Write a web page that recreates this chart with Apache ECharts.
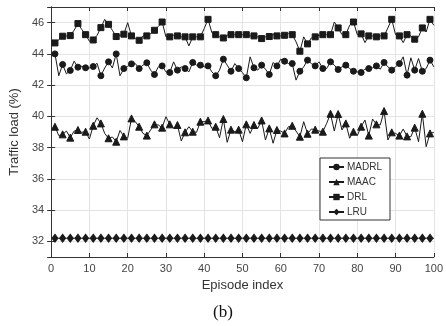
<!DOCTYPE html>
<html>
<head>
<meta charset="utf-8">
<script src="https://cdn.jsdelivr.net/npm/echarts@6/dist/echarts.min.js"></script>
<style>html,body{margin:0;padding:0;background:#fff}#c{width:446px;height:326px}</style>
</head>
<body>
<div id="c"></div>
<script>
const seriesNames = ['MADRL', 'MAAC', 'DRL', 'LRU'];
const xTicks = [0, 10, 20, 30, 40, 50, 60, 70, 80, 90, 100];
const yTicks = [32, 34, 36, 38, 40, 42, 44, 46];

const madrl = [
  44.00, 42.60, 43.32, 42.72, 42.94, 43.53, 43.15, 43.21, 43.11, 43.10,
  43.19, 43.40, 42.60, 43.10, 43.49, 43.10, 44.00, 42.60, 43.06, 43.20,
  43.36, 43.38, 43.06, 43.28, 43.43, 42.96, 42.68, 43.17, 43.23, 42.85,
  42.81, 43.49, 42.96, 43.17, 43.06, 42.85, 43.45, 43.28, 43.28, 43.17,
  43.23, 42.85, 42.60, 42.96, 43.66, 43.28, 42.89, 43.38, 43.06, 42.80,
  42.47, 43.81, 43.11, 42.96, 43.28, 43.02, 42.68, 43.45, 43.23, 43.66,
  43.53, 43.38, 43.38, 42.32, 42.89, 43.17, 43.60, 43.38, 43.23, 43.49,
  43.06, 43.06, 43.49, 43.28, 43.00, 43.17, 43.28, 43.06, 42.89, 42.85,
  42.81, 43.02, 43.06, 43.11, 43.23, 43.02, 43.45, 43.17, 42.96, 43.17,
  43.38, 43.81, 42.64, 43.75, 42.96, 43.70, 42.89, 43.06, 43.60, 43.17
];
const maac = [
  39.34, 38.77, 38.85, 39.06, 38.64, 39.06, 39.13, 38.98, 39.02, 38.55,
  39.40, 39.91, 39.55, 38.91, 38.60, 38.68, 38.38, 39.10, 38.72, 38.60,
  39.87, 39.66, 39.34, 38.91, 38.77, 39.13, 39.49, 39.45, 39.28, 39.98,
  39.49, 39.23, 39.45, 38.43, 38.98, 39.34, 39.02, 38.98, 39.66, 39.66,
  39.74, 39.23, 39.34, 38.64, 39.83, 38.34, 39.15, 39.02, 39.15, 38.38,
  39.49, 38.91, 39.45, 39.23, 39.74, 38.49, 39.23, 38.28, 39.13, 39.06,
  38.91, 39.34, 39.40, 39.06, 38.70, 39.66, 38.89, 39.19, 39.15, 39.06,
  39.02, 39.55, 40.17, 39.06, 40.15, 39.13, 39.55, 38.60, 39.02, 38.77,
  39.34, 39.77, 38.77, 39.83, 39.49, 39.45, 40.34, 38.49, 38.98, 38.91,
  38.77, 39.19, 38.72, 38.70, 39.28, 38.38, 40.17, 38.06, 38.91, 38.98
];
const drl = [
  44.70, 44.91, 45.13, 45.15, 45.17, 45.51, 45.94, 45.57, 45.23, 44.81,
  44.89, 45.19, 45.68, 46.21, 45.89, 45.51, 45.11, 45.19, 45.26, 46.00,
  45.15, 44.98, 44.87, 45.15, 45.15, 45.30, 45.51, 45.75, 46.04, 45.09,
  45.09, 45.19, 45.15, 45.09, 45.09, 44.51, 45.09, 45.09, 45.09, 45.62,
  46.21, 45.36, 45.23, 45.09, 45.02, 45.19, 45.23, 45.23, 45.23, 45.23,
  45.23, 45.15, 45.15, 45.09, 44.98, 45.09, 45.11, 45.23, 45.15, 45.15,
  45.19, 45.30, 45.23, 44.77, 44.17, 45.09, 44.64, 45.02, 45.09, 45.19,
  45.23, 45.23, 45.23, 46.04, 45.66, 45.23, 45.23, 45.83, 46.04, 45.23,
  45.28, 44.72, 45.15, 45.15, 45.09, 45.15, 45.15, 45.66, 46.21, 45.23,
  45.15, 44.72, 45.23, 45.15, 44.94, 45.09, 45.66, 45.40, 46.21, 45.83
];
const lru = [
  32.2, 32.2, 32.2, 32.2, 32.2, 32.2, 32.2, 32.2, 32.2, 32.2,
  32.2, 32.2, 32.2, 32.2, 32.2, 32.2, 32.2, 32.2, 32.2, 32.2,
  32.2, 32.2, 32.2, 32.2, 32.2, 32.2, 32.2, 32.2, 32.2, 32.2,
  32.2, 32.2, 32.2, 32.2, 32.2, 32.2, 32.2, 32.2, 32.2, 32.2,
  32.2, 32.2, 32.2, 32.2, 32.2, 32.2, 32.2, 32.2, 32.2, 32.2,
  32.2, 32.2, 32.2, 32.2, 32.2, 32.2, 32.2, 32.2, 32.2, 32.2,
  32.2, 32.2, 32.2, 32.2, 32.2, 32.2, 32.2, 32.2, 32.2, 32.2,
  32.2, 32.2, 32.2, 32.2, 32.2, 32.2, 32.2, 32.2, 32.2, 32.2,
  32.2, 32.2, 32.2, 32.2, 32.2, 32.2, 32.2, 32.2, 32.2, 32.2,
  32.2, 32.2, 32.2, 32.2, 32.2, 32.2, 32.2, 32.2, 32.2, 32.2
];

const symbols = ['circle', 'triangle', 'rect', 'diamond'];
const symbolSizes = [6, 7, 6, [6, 8]];
const values = [madrl, maac, drl, lru];
const lineColor = '#1a1a1a';

function build(vals) {
  return vals.map((v, i) => i % 2 === 0 ? { value: [i + 1, v] } : { value: [i + 1, v], symbol: 'none' });
}

const chart = echarts.init(document.getElementById('c'), null, { renderer: 'canvas' });
const font = 'Liberation Sans, Arial, Helvetica, sans-serif';
const axisLineColor = '#333';
const labelColor = '#444';
const gridColor = '#e4e4e4';

chart.setOption({
  animation: false,
  backgroundColor: '#fff',
  textStyle: { fontFamily: font },
  grid: { left: 35, right: 11, top: 7, bottom: 69, containLabel: false },
  legend: {
    orient: 'vertical',
    left: 320, top: 158,
    data: seriesNames,
    itemWidth: 15, itemHeight: 8, itemGap: 5,
    padding: [4, 8, 3, 8],
    borderColor: '#333', borderWidth: 1, borderRadius: 0,
    backgroundColor: '#fff',
    textStyle: { fontFamily: font, fontSize: 10, color: '#333', padding: [0, 0, 0, -2] }
  },
  xAxis: [{
    type: 'value', min: 0, max: 100, interval: 10,
    name: 'Episode index', nameLocation: 'middle', nameGap: 13,
    nameTextStyle: { fontFamily: font, fontSize: 13, color: '#333' },
    axisLine: { show: true, lineStyle: { color: axisLineColor, width: 1 } },
    axisTick: { show: true, inside: true, length: 4, lineStyle: { color: axisLineColor } },
    axisLabel: { color: labelColor, fontSize: 11, margin: 6, fontFamily: font,
      formatter: v => xTicks.indexOf(v) >= 0 ? String(v) : '' },
    splitLine: { show: true, lineStyle: { color: gridColor, width: 1 } }
  }, {
    type: 'value', min: 0, max: 100, interval: 10, position: 'top',
    axisLine: { show: true, lineStyle: { color: axisLineColor, width: 1 } },
    axisTick: { show: true, inside: true, length: 4, lineStyle: { color: axisLineColor } },
    axisLabel: { show: false }, splitLine: { show: false }
  }],
  yAxis: [{
    type: 'value', min: 31, max: 47, splitNumber: 8,
    name: 'Traffic load (%)', nameLocation: 'middle', nameGap: 19,
    nameTextStyle: { fontFamily: font, fontSize: 13, color: '#333' },
    axisLine: { show: true, lineStyle: { color: axisLineColor, width: 1 } },
    axisTick: { show: true, inside: true, length: 4, lineStyle: { color: axisLineColor } },
    axisLabel: { color: labelColor, fontSize: 11, margin: 7, fontFamily: font,
      formatter: v => yTicks.indexOf(v) >= 0 ? String(v) : '' },
    splitLine: { show: true, lineStyle: { color: gridColor, width: 1 } }
  }, {
    type: 'value', min: 31, max: 47, splitNumber: 8, position: 'right',
    axisLine: { show: true, lineStyle: { color: axisLineColor, width: 1 } },
    axisTick: { show: true, inside: true, length: 4, lineStyle: { color: axisLineColor } },
    axisLabel: { show: false }, splitLine: { show: false }
  }],
  graphic: [{
    type: 'text', left: 'center', top: 304,
    style: { text: '(b)', fontFamily: 'Liberation Serif, Times New Roman, serif', fontSize: 17, fill: '#111' }
  }],
  series: seriesNames.map((name, k) => ({
    name: name,
    type: 'line',
    data: build(values[k]),
    symbol: symbols[k],
    symbolSize: symbolSizes[k],
    showAllSymbol: true,
    lineStyle: { color: lineColor, width: 1 },
    itemStyle: { color: lineColor, borderColor: lineColor },
    emphasis: { disabled: true },
    z: 3
  }))
});
</script>
</body>
</html>
